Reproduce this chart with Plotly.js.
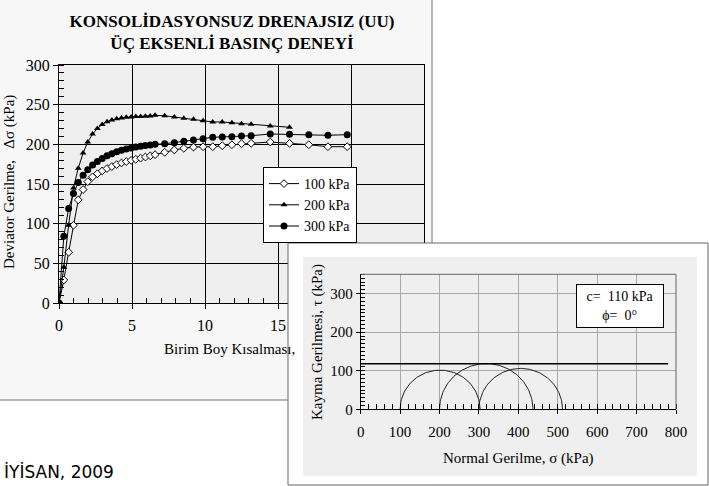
<!DOCTYPE html>
<html><head><meta charset="utf-8">
<script src="https://cdn.plot.ly/plotly-3.0.1.min.js"></script>
<style>html,body{margin:0;padding:0;background:#fff}#chart{width:709px;height:486px}</style>
</head><body><div id="chart"></div>
<script>
// ---- Data: stress-strain curves (UU triaxial) ----
const strain = [0, 0.33, 0.66, 0.99, 1.32, 1.65, 1.97, 2.30, 2.63, 2.96, 3.29, 3.62, 3.95, 4.28, 4.61, 4.94, 5.26, 5.59, 5.92, 6.25, 6.58,
  7.24, 7.90, 8.55, 9.21, 9.87, 10.53, 11.18, 11.84, 12.50, 13.16, 14.47, 15.79, 17.11, 18.42, 19.74];
const dev100 = [0, 29, 64, 98, 130, 143, 153, 159, 163, 166.5, 169.5, 172, 174.5, 176.5, 178.3, 179.8, 181.1, 182.6, 184, 185.5, 187,
  190, 192.9, 195, 196.5, 197, 197, 198.3, 199.5, 200.8, 201.3, 202.9, 201.3, 199.5, 197, 197];
const dev200 = [0, 45, 98, 145, 170, 189, 203, 213, 220, 225, 228.5, 230.7, 232.3, 233.2, 234, 234.3, 235, 235.2, 235.5, 235.8, 236.6,
  236, 234.5, 233, 231.5, 229.8, 228.2, 228.2, 227.3, 226, 225.3, 223.1, 221.5];
const dev300 = [0, 84, 119, 138, 152, 161, 168, 174, 178.5, 182, 185.5, 188, 190.5, 192.5, 194, 195.5, 196.5, 197.5, 198.5, 199.2, 200,
  200.8, 202, 203.8, 205.5, 207, 208.9, 209.3, 209.6, 210.5, 210.9, 213, 212.6, 212.2, 211.4, 212.2];
const seriesNames = ['100 kPa', '200 kPa', '300 kPa'];
const strainTicks = [0, 5, 10, 15, 20, 25];
const strainTickText = ['0', '5', '10', '15', '', ''];

// ---- Data: Mohr circles ----
const sigma3 = [100, 200, 300];
const sigma1 = [303, 437, 512];
const envelopeSigma = [0, 780];
const envelopeTau = [118, 118];

// ---- Text ----
const mainTitle = '<b>KONSOLİDASYONSUZ DRENAJSIZ (UU)</b><br><b>ÜÇ EKSENLİ BASINÇ DENEYİ</b>';
const yTitle1 = 'Deviator Gerilme,\u00a0\u00a0\u00a0Δσ (kPa)';
const xTitle1 = 'Birim Boy Kısalması,';
const yTitle2 = 'Kayma Gerilmesi, τ (kPa)';
const xTitle2 = 'Normal Gerilme, σ (kPa)';
const paramText = 'c=\u00a0\u00a0110 kPa<br>ϕ=\u00a0\u00a00°';
const sourceText = 'İYİSAN, 2009';

const W = 709, H = 486;
const px = v => v / W;
const py = v => 1 - v / H;
const SERIF = "'Liberation Serif', 'Times New Roman', serif";

const traces = [
  {x: strain.slice(0, dev100.length), y: dev100, name: seriesNames[0], mode: 'lines+markers',
   line: {color: '#000', width: 1}, marker: {symbol: 'diamond', size: 6, color: '#fff', line: {color: '#000', width: 1}}},
  {x: strain.slice(0, dev200.length), y: dev200, name: seriesNames[1], mode: 'lines+markers',
   line: {color: '#000', width: 1}, marker: {symbol: 'triangle-up', size: 6, color: '#000'}},
  {x: strain.slice(0, dev300.length), y: dev300, name: seriesNames[2], mode: 'lines+markers',
   line: {color: '#000', width: 1}, marker: {symbol: 'circle', size: 7, color: '#000'}},
  {x: [], y: [], xaxis: 'x2', yaxis: 'y2', showlegend: false, hoverinfo: 'skip', mode: 'markers'}
];

// Mohr circles (upper halves) built from sigma3 / sigma1
for (let i = 0; i < sigma3.length; i++) {
  const c = (sigma1[i] + sigma3[i]) / 2, r = (sigma1[i] - sigma3[i]) / 2;
  const xs = [], ys = [];
  for (let k = 0; k <= 90; k++) {
    const t = Math.PI * k / 90;
    xs.push(c - r * Math.cos(t));
    ys.push(r * Math.sin(t));
  }
  traces.push({x: xs, y: ys, xaxis: 'x3', yaxis: 'y3', mode: 'lines', showlegend: false,
    line: {color: '#222', width: 1}, hoverinfo: 'skip'});
}
traces.push({x: envelopeSigma, y: envelopeTau, xaxis: 'x3', yaxis: 'y3', mode: 'lines', showlegend: false,
  line: {color: '#000', width: 1.5}});

const frame1Bottom = 400;
const layout = {
  width: W, height: H, margin: {l: 0, r: 0, t: 0, b: 0},
  paper_bgcolor: '#f7f7f7', plot_bgcolor: '#efefef',
  font: {family: SERIF, color: '#000', size: 14},
  title: {text: mainTitle, x: px(232), xanchor: 'center', xref: 'paper', yref: 'paper', y: py(27), yanchor: 'top',
    font: {family: SERIF, size: 17, color: '#000'}},
  showlegend: true,
  legend: {x: px(263), y: py(167), xanchor: 'left', yanchor: 'top', bgcolor: '#fff', bordercolor: '#000', borderwidth: 1,
    font: {family: SERIF, size: 14}, tracegroupgap: 0, itemwidth: 30},
  xaxis: {domain: [px(59), px(424)], range: [0, 25], tickmode: 'array', tickvals: strainTicks, ticktext: strainTickText, anchor: 'y',
    showgrid: true, gridcolor: '#000', gridwidth: 1, zeroline: false,
    showline: true, linecolor: '#000', linewidth: 1, mirror: true,
    ticks: 'outside', ticklen: 5, tickcolor: '#000', ticklabelstandoff: 3,
    minor: {dtick: 1, tick0: 0, ticks: 'inside', ticklen: 5, tickcolor: '#000', showgrid: false},
    tickfont: {family: SERIF, size: 16}},
  yaxis: {domain: [py(303), py(65)], range: [0, 300], tick0: 0, dtick: 50, anchor: 'x',
    showgrid: true, gridcolor: '#000', gridwidth: 1, zeroline: false,
    showline: true, linecolor: '#000', linewidth: 1, mirror: true,
    ticks: 'outside', ticklen: 5, tickcolor: '#000',
    minor: {dtick: 10, ticks: 'inside', ticklen: 5, tickcolor: '#000', showgrid: false},
    tickfont: {family: SERIF, size: 16}},
  xaxis2: {domain: [px(303), px(697)], range: [0, 1], anchor: 'y2', visible: false, fixedrange: true},
  yaxis2: {domain: [py(476), py(257)], range: [0, 1], anchor: 'x2', visible: false, fixedrange: true},
  xaxis3: {domain: [px(360.7), px(676)], range: [0, 800], tick0: 0, dtick: 100, anchor: 'y3',
    showgrid: true, gridcolor: '#a8a8a8', gridwidth: 1, zeroline: false,
    showline: true, linecolor: '#000', linewidth: 1,
    ticks: 'outside', ticklen: 4, tickcolor: '#000', ticklabelstandoff: 5,
    minor: {dtick: 20, ticks: 'inside', ticklen: 5, tickcolor: '#000', showgrid: false},
    tickfont: {family: SERIF, size: 15}},
  yaxis3: {domain: [py(409.3), py(274.3)], range: [0, 350], tick0: 0, dtick: 100, anchor: 'x3',
    showgrid: true, gridcolor: '#a8a8a8', gridwidth: 1, zeroline: false,
    showline: true, linecolor: '#000', linewidth: 1,
    ticks: 'outside', ticklen: 4, tickcolor: '#000',
    minor: {dtick: 10, ticks: 'inside', ticklen: 4, tickcolor: '#000', showgrid: false},
    tickfont: {family: SERIF, size: 15}},
  shapes: [
    {type: 'rect', xref: 'paper', yref: 'paper', layer: 'below', x0: px(432), x1: 1, y0: py(0), y1: py(243),
     fillcolor: '#fff', line: {width: 0}},
    {type: 'rect', xref: 'paper', yref: 'paper', layer: 'below', x0: 0, x1: px(432), y0: py(frame1Bottom), y1: 0,
     fillcolor: '#fff', line: {width: 0}},
    {type: 'line', xref: 'paper', yref: 'paper', layer: 'below', x0: px(432), x1: px(432), y0: py(0), y1: py(frame1Bottom),
     line: {color: '#777', width: 1}},
    {type: 'line', xref: 'paper', yref: 'paper', layer: 'below', x0: 0, x1: px(432), y0: py(frame1Bottom), y1: py(frame1Bottom),
     line: {color: '#777', width: 1}},
    {type: 'rect', xref: 'paper', yref: 'paper', layer: 'above', x0: px(288), x1: px(303), y0: py(243), y1: py(485),
     fillcolor: '#fff', line: {width: 0}},
    {type: 'rect', xref: 'paper', yref: 'paper', layer: 'above', x0: px(697), x1: px(708), y0: py(243), y1: py(485),
     fillcolor: '#fff', line: {width: 0}},
    {type: 'rect', xref: 'paper', yref: 'paper', layer: 'above', x0: px(288), x1: px(708), y0: py(243), y1: py(257),
     fillcolor: '#fff', line: {width: 0}},
    {type: 'rect', xref: 'paper', yref: 'paper', layer: 'above', x0: px(288), x1: px(708), y0: py(476), y1: py(485),
     fillcolor: '#fff', line: {width: 0}},
    {type: 'rect', xref: 'paper', yref: 'paper', layer: 'above', x0: px(288), x1: px(708), y0: py(243), y1: py(485),
     fillcolor: 'rgba(0,0,0,0)', line: {color: '#666', width: 1}},
    {type: 'line', xref: 'x3 domain', yref: 'y3 domain', layer: 'above', x0: 0, x1: 1, y0: 1, y1: 1, line: {color: '#666', width: 1}},
    {type: 'line', xref: 'x3 domain', yref: 'y3 domain', layer: 'above', x0: 1, x1: 1, y0: 0, y1: 1, line: {color: '#666', width: 1}}
  ],
  annotations: [
    {text: yTitle1, xref: 'paper', yref: 'paper', x: px(10), y: py(182), xanchor: 'center', yanchor: 'middle', textangle: -90,
     showarrow: false, font: {family: SERIF, size: 15}},
    {text: xTitle1, xref: 'paper', yref: 'paper', x: px(162), y: py(349), xanchor: 'left', yanchor: 'middle',
     showarrow: false, font: {family: SERIF, size: 15}},
    {text: yTitle2, xref: 'paper', yref: 'paper', x: px(317), y: py(342), xanchor: 'center', yanchor: 'middle', textangle: -90,
     showarrow: false, font: {family: SERIF, size: 15}},
    {text: xTitle2, xref: 'paper', yref: 'paper', x: px(518), y: py(458), xanchor: 'center', yanchor: 'middle',
     showarrow: false, font: {family: SERIF, size: 15}},
    {text: paramText, xref: 'paper', yref: 'paper', x: px(620), y: py(306), xanchor: 'center', yanchor: 'middle',
     showarrow: false, font: {family: SERIF, size: 14}, bgcolor: '#fff', bordercolor: '#000', borderwidth: 1,
     width: 84, height: 40, align: 'center'},
    {text: sourceText, xref: 'paper', yref: 'paper', x: px(2), y: py(472), xanchor: 'left', yanchor: 'middle',
     showarrow: false, font: {family: 'DejaVu Sans, sans-serif', size: 17}}
  ]
};

Plotly.newPlot('chart', traces, layout, {displayModeBar: false, staticPlot: true});
</script>
</body></html>
